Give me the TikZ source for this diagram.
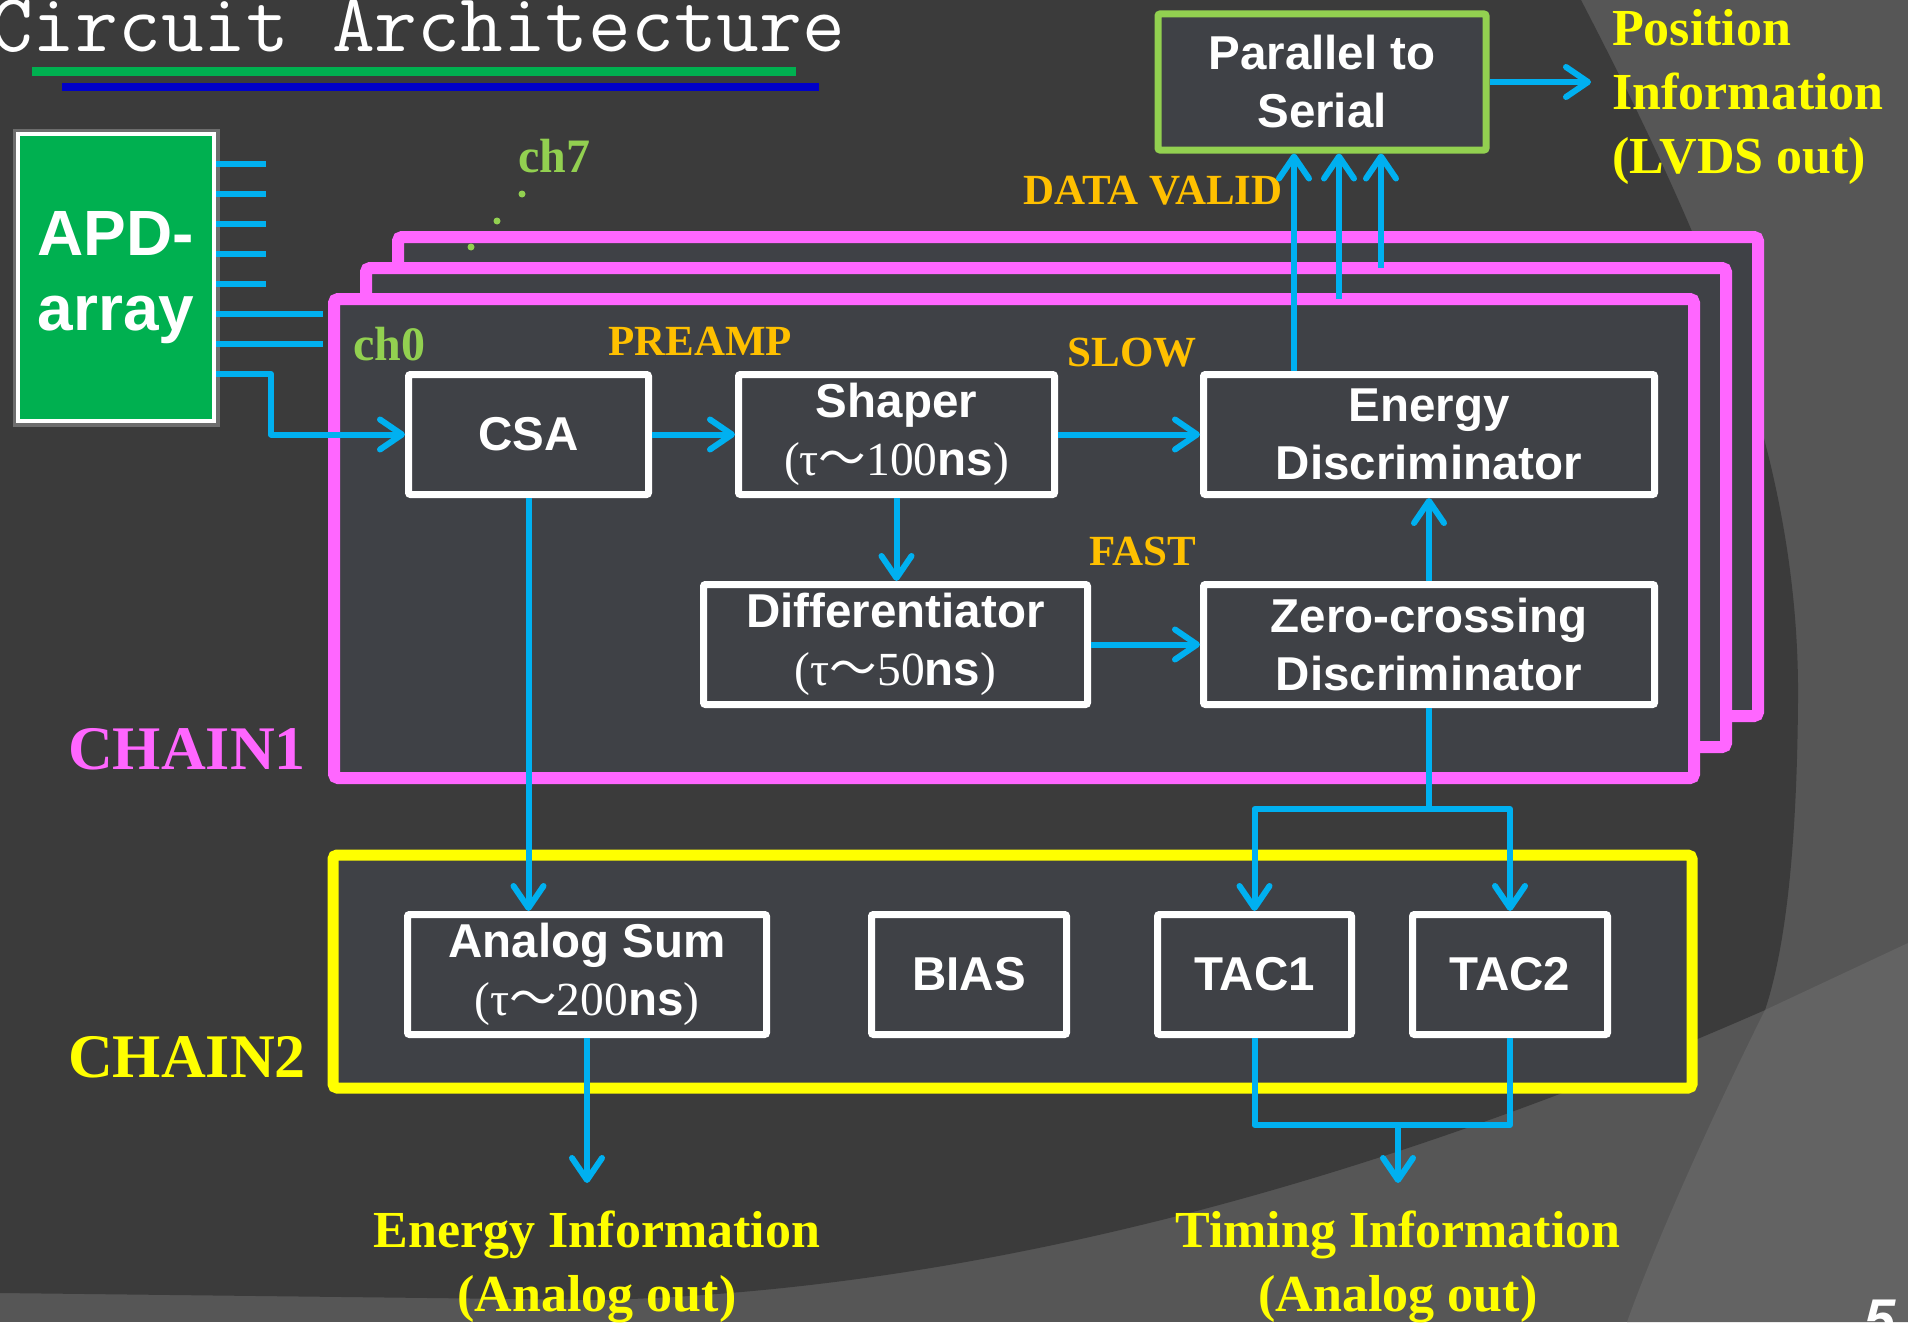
\documentclass[tikz,border=0pt]{standalone}
\usepackage{fontspec}
\setmainfont{Liberation Serif}
\setsansfont{Liberation Sans}
\newfontfamily\cjkfont{Noto Sans CJK SC}
\usepackage{xcolor}
\definecolor{slide}{HTML}{3B3B3B}
\definecolor{slidemid}{HTML}{565656}
\definecolor{slidelite}{HTML}{636363}
\definecolor{panel}{HTML}{3F4146}
\definecolor{cyanline}{HTML}{00B0F0}
\definecolor{chainA}{HTML}{FF66FF}
\definecolor{chainB}{HTML}{FFFF00}
\definecolor{leaf}{HTML}{92D050}
\definecolor{apdgreen}{HTML}{00B050}
\definecolor{amber}{HTML}{FFC000}
\definecolor{rulebl}{HTML}{0000C8}
\usepackage{tikz}
\usetikzlibrary{arrows.meta, positioning}

\newcommand{\boxfont}{\fontsize{47.5}{58}\selectfont\sffamily\bfseries}
\newcommand{\tagfont}{\fontsize{43}{50}\selectfont\rmfamily\bfseries}
\newcommand{\outfont}{\fontsize{52}{64}\selectfont\rmfamily\bfseries}
\newcommand{\chainfont}{\fontsize{62}{70}\selectfont\rmfamily\bfseries}
\newcommand{\tauns}[1]{{\rmfamily\mdseries(τ}{\cjkfont\mdseries ～}{\rmfamily\mdseries #1}ns{\rmfamily\mdseries)}}

\tikzset{
  >={Straight Barb[length=22pt, width=30pt, round]},
  wire/.style={draw=cyanline, line width=6pt},
  arr/.style={wire, ->},
  blk/.style={draw=white, line width=7pt, fill=panel, minimum height=120pt, inner sep=0pt,
    align=center, text=white, font=\boxfont, rounded corners=2pt},
  chainbox/.style={draw=chainA, line width=12pt, fill=panel, outer sep=0pt, inner sep=0pt,
    rounded corners=4pt},
  tag/.style={inner sep=0pt, font=\tagfont, text=amber},
  outlbl/.style={inner sep=0pt, font=\outfont, text=chainB},
}

\begin{document}
\begin{tikzpicture}[x=1pt, y=-1pt,
    chlbl/.style={inner sep=0pt, font=\fontsize{48}{50}\selectfont\rmfamily\bfseries, text=leaf},
    apd/.style={draw=white, line width=4pt, fill=apdgreen, text=white, align=center,
      font=\fontsize{64}{75}\selectfont\sffamily\bfseries, inner sep=0pt,
      preaction={draw=white!60!gray, line width=11pt, opacity=0.35}}]

  \useasboundingbox (0,0) rectangle (1908,1322);
  \clip (0,0) rectangle (1908,1322);

  % slide background
  \fill[slidemid] (0,0) rectangle (1908,1322);
  \fill[slidelite] (1908,943) -- (1765,1010) .. controls (1720,1100) and (1660,1230) .. (1627,1322)
    -- (1908,1322) -- cycle;
  \fill[slide] (0,0) -- (1581,0) .. controls (1700,230) and (1800,450) .. (1798,700)
    .. controls (1797,850) and (1785,950) .. (1765,1010)
    .. controls (1400,1170) and (1000,1290) .. (600,1300) -- (0,1293) -- cycle;

  % title
  \node[anchor=base west, inner sep=0pt, text=white, font=\fontsize{83}{83}\selectfont\ttfamily]
    (title) at (-10,52) {Circuit Architecture};
  \draw[apdgreen, line width=9pt] (32,71.5) -- (796,71.5);
  \draw[rulebl, line width=8pt] (62,87) -- (819,87);

  % the eight channel boxes, back to front
  \foreach \k in {2,1,0}
    \node[chainbox, minimum width=1360pt, minimum height=479pt] (chain\k) at ({1014+32*\k},{538.5-31*\k}) {};
  \node[chainbox, draw=chainB, line width=11pt, minimum width=1359pt, minimum height=233pt]
    (common) at (1012.5,971.5) {};

  \node[chlbl, anchor=base west] (lch0) at (353,360) {ch0};
  \node[chlbl, anchor=base west] (lch7) at (518,172) {ch7};
  \foreach \p in {(522,194),(497,221),(471,247)}
    \fill[leaf] \p circle (3.5);

  \node[inner sep=0pt, anchor=base west, font=\chainfont, text=chainA] (lchain1) at (68,769) {CHAIN1};
  \node[inner sep=0pt, anchor=base west, font=\chainfont, text=chainB] (lchain2) at (68,1077) {CHAIN2};

  % blocks
  \node[apd, minimum width=196pt, minimum height=287pt] (apd) at (116,277.5) {APD-\\array};
  \node[blk, minimum width=240pt] (csa) at (528.5,434.5) {CSA};
  \node[blk, minimum width=316pt] (shaper) at (896.5,434.5) {Shaper\\\tauns{100}};
  \node[blk, minimum width=451pt] (ed) at (1429,434.5) {Energy\\Discriminator};
  \node[blk, minimum width=384pt] (diff) at (895.5,644.5) {Differentiator\\\tauns{50}};
  \node[blk, minimum width=451pt] (zc) at (1429,644.5) {Zero-crossing\\Discriminator};
  \node[blk, minimum width=359pt] (asum) at (587,974.5) {Analog Sum\\\tauns{200}};
  \node[blk, minimum width=195pt] (bias) at (969,974.5) {BIAS};
  \node[blk, minimum width=194pt] (tac1) at (1254.5,974.5) {TAC1};
  \node[blk, minimum width=195pt] (tac2) at (1510,974.5) {TAC2};
  \node[blk, draw=leaf, minimum width=328pt, minimum height=136pt] (p2s) at (1322,82) {Parallel to\\Serial};

  % labels
  \node[tag, anchor=base] (lpre) at (700,355) {PREAMP};
  \node[tag, anchor=base] (lslow) at (1132,366) {SLOW};
  \node[tag, anchor=base] (lfast) at (1143,565) {FAST};
  \node[tag, anchor=base] (ldv) at (1153,204) {DATA VALID};
  \node[outlbl, anchor=north west, align=left] (pos) at (1612,9) {Position\\Information\\(LVDS out)};
  \node[outlbl, anchor=north, align=center] (einfo) at (597,1211) {Energy Information\\(Analog out)};
  \node[outlbl, anchor=north, align=center] (tinfo) at (1398,1211) {Timing Information\\(Analog out)};
  \node[anchor=north west, inner sep=0pt, text=white, font=\fontsize{56}{56}\selectfont\sffamily\bfseries\itshape]
    (pg) at (1864,1300) {5};

  % channel outputs of the APD array
  \foreach \i in {0,...,7}
    \coordinate (ch\i) at ([yshift={-32-30*\i}]apd.north east);
  \foreach \i in {0,...,4}
    \draw[wire] (ch\i) -- ++(50,0);
  \foreach \i in {5,6}
    \draw[wire] (ch\i) -- ++(107,0);
  \draw[arr, line join=round] (ch7) -- ++(55,0) |- (csa.west);

  % signal path
  \draw[arr] (csa) -- (shaper);
  \draw[arr] (shaper) -- (ed);
  \draw[arr] (shaper.south) -- (shaper.south |- diff.north);
  \draw[arr] (diff) -- (zc);
  \draw[arr] (zc) -- (ed);

  \coordinate (in0) at ([xshift=-28pt]p2s.south);
  \coordinate (in1) at ([xshift=17pt]p2s.south);
  \coordinate (in2) at ([xshift=59pt]p2s.south);
  \draw[arr] (ed.north -| in0) -- (in0);
  \draw[arr] (chain0.north -| in1) -- (in1);
  \draw[arr] (chain1.north -| in2) -- (in2);
  \draw[arr] (p2s) -- ([xshift=-21pt]pos.west |- p2s);

  \draw[arr] (csa.south) -- (csa.south |- asum.north);
  \coordinate (eout) at ([yshift=28pt]einfo.north);
  \draw[arr] (asum.south) -- (asum.south |- eout);

  \path (zc.south) ++(0,101) coordinate (tsplit);
  \draw[wire] (zc.south) -- (tsplit);
  \draw[arr, line join=round] (tsplit) -| (tac1.north);
  \draw[arr, line join=round] (tsplit) -| (tac2.north);

  \path (tac1.south) ++(0,87) coordinate (tjoin);
  \draw[wire, line join=round] (tac1.south) -- (tjoin) -| (tac2.south);
  \coordinate (tout) at ([yshift=28pt]tinfo.north);
  \draw[arr] (tout |- tjoin) -- (tout);
\end{tikzpicture}
\end{document}
